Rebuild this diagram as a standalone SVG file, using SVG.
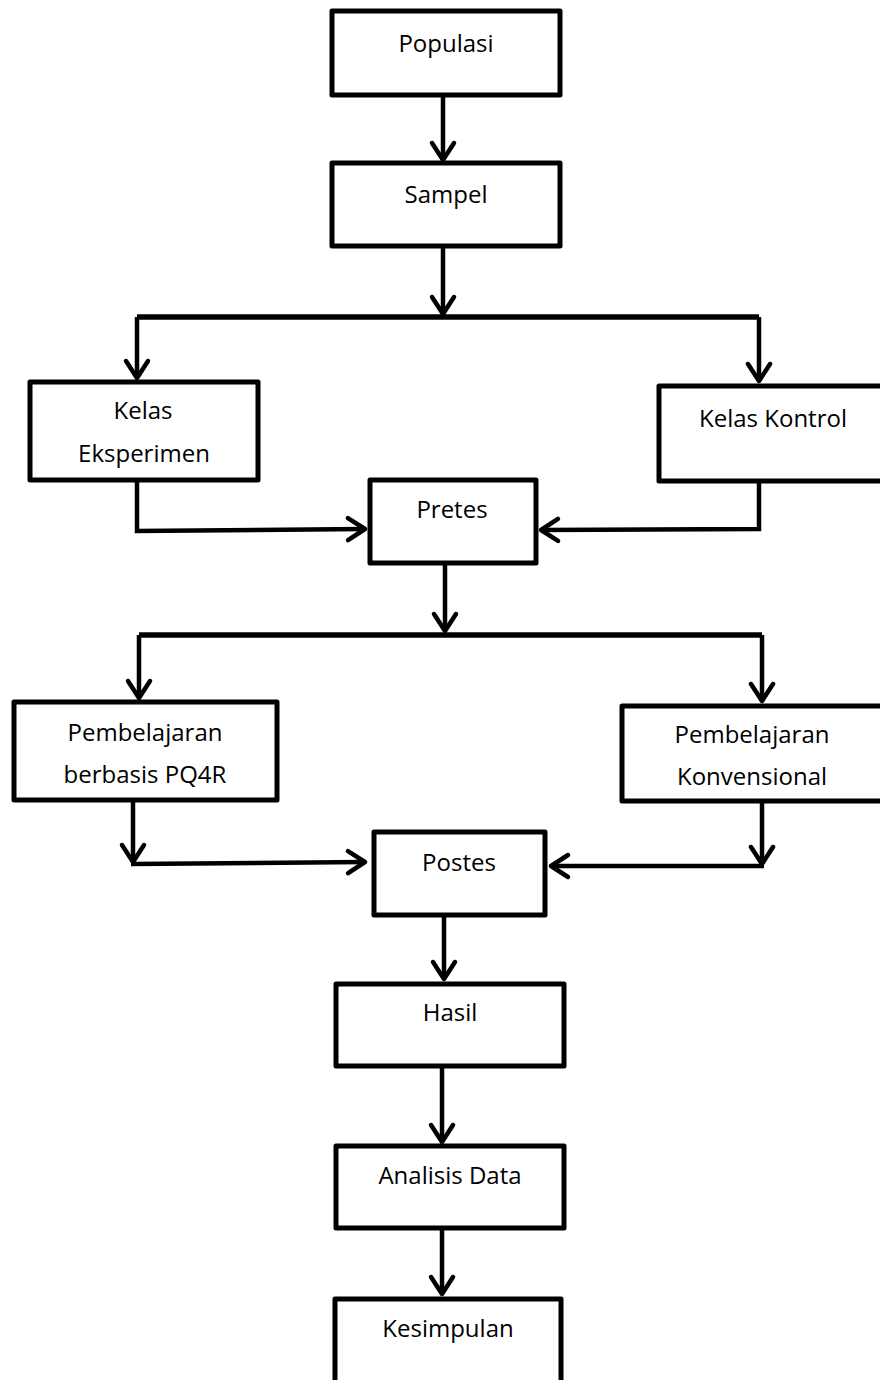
<svg xmlns="http://www.w3.org/2000/svg" width="880" height="1380" viewBox="0 0 880 1380">
<style>
.box{fill:#fff;stroke:#000;stroke-width:5;stroke-linejoin:round}
.lbl{font-family:"Open Sans","Liberation Sans",sans-serif;font-size:24px;fill:#000;text-anchor:middle}
.con{fill:none;stroke:#000;stroke-width:4.5;stroke-linecap:butt;stroke-linejoin:miter}
.bar{fill:none;stroke:#000;stroke-width:5.5}
</style>
<defs>
<marker id="ah" markerUnits="userSpaceOnUse" viewBox="-24 -15 30 30" markerWidth="30" markerHeight="30" refX="0" refY="0" orient="auto" overflow="visible">
<path d="M-17,-11 L0,0 L-17,11" fill="none" stroke="#000" stroke-width="4.5" stroke-linecap="round" stroke-linejoin="round"/>
</marker>
</defs>
<rect width="880" height="1380" fill="#fff"/>
<g id="connectors">
<path class="con" d="M443,95 L443,160" marker-end="url(#ah)"/>
<path class="con" d="M443,246 L443,314" marker-end="url(#ah)"/>
<path class="bar" d="M137,317 L759,317"/>
<path class="con" d="M137,317 L137,378" marker-end="url(#ah)"/>
<path class="con" d="M759,317 L759,381" marker-end="url(#ah)"/>
<path class="con" d="M137,480 L137,531 L365,529" marker-end="url(#ah)"/>
<path class="con" d="M759,481 L759,529 L541,530" marker-end="url(#ah)"/>
<path class="con" d="M445,563 L445,631" marker-end="url(#ah)"/>
<path class="bar" d="M139,635 L762,635"/>
<path class="con" d="M139,635 L139,698" marker-end="url(#ah)"/>
<path class="con" d="M762,635 L762,701" marker-end="url(#ah)"/>
<path class="con" d="M133,800 L133,862" marker-end="url(#ah)"/>
<path class="con" d="M131,864 L365,862" marker-end="url(#ah)"/>
<path class="con" d="M762,801 L762,864" marker-end="url(#ah)"/>
<path class="con" d="M764,866 L551,866" marker-end="url(#ah)"/>
<path class="con" d="M444,915 L444,979" marker-end="url(#ah)"/>
<path class="con" d="M442,1066 L442,1142" marker-end="url(#ah)"/>
<path class="con" d="M442,1228 L442,1294" marker-end="url(#ah)"/>
</g>
<g id="populasi"><rect class="box" x="332" y="11" width="228" height="84"/><text class="lbl" x="446" y="52">Populasi</text></g>
<g id="sampel"><rect class="box" x="332" y="163" width="228" height="83"/><text class="lbl" x="446" y="203">Sampel</text></g>
<g id="kelas-eksperimen"><rect class="box" x="30" y="382" width="228" height="98"/><text class="lbl" x="143" y="419">Kelas</text><text class="lbl" x="144" y="462">Eksperimen</text></g>
<g id="kelas-kontrol"><rect class="box" x="659" y="386" width="240" height="95"/><text class="lbl" x="773" y="427">Kelas Kontrol</text></g>
<g id="pretes"><rect class="box" x="370" y="480" width="166" height="83"/><text class="lbl" x="452" y="518">Pretes</text></g>
<g id="pembelajaran-pq4r"><rect class="box" x="14" y="702" width="263" height="98"/><text class="lbl" x="145" y="741">Pembelajaran</text><text class="lbl" x="145" y="783">berbasis PQ4R</text></g>
<g id="pembelajaran-konvensional"><rect class="box" x="622" y="706" width="280" height="95"/><text class="lbl" x="752" y="743">Pembelajaran</text><text class="lbl" x="752" y="785">Konvensional</text></g>
<g id="postes"><rect class="box" x="374" y="832" width="171" height="83"/><text class="lbl" x="459" y="871">Postes</text></g>
<g id="hasil"><rect class="box" x="336" y="984" width="228" height="82"/><text class="lbl" x="450" y="1021">Hasil</text></g>
<g id="analisis-data"><rect class="box" x="336" y="1146" width="228" height="82"/><text class="lbl" x="450" y="1184">Analisis Data</text></g>
<g id="kesimpulan"><rect class="box" x="335" y="1299" width="226" height="110"/><text class="lbl" x="448" y="1337">Kesimpulan</text></g>
</svg>
